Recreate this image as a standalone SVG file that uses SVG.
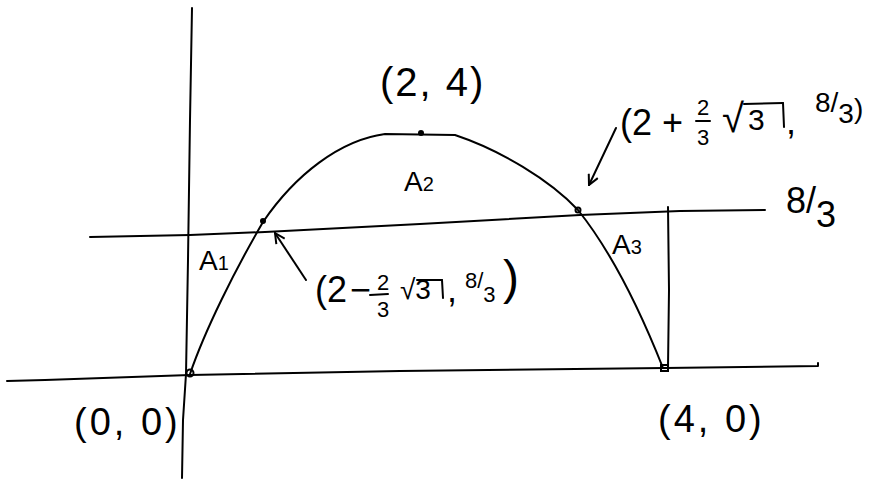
<svg xmlns="http://www.w3.org/2000/svg" width="876" height="480" viewBox="0 0 876 480">
<style>
.ln{fill:none;stroke:#000;stroke-width:2;stroke-linecap:round;stroke-linejoin:round}
.t{font-family:"Liberation Sans","DejaVu Sans",sans-serif;fill:#000}
.big{font-size:36px}
.mid{font-size:28px}
.sm{font-size:20px}
.fr{font-size:22px}
</style>
<defs>
<marker id="ah" viewBox="0 0 12 12" refX="11" refY="6" markerWidth="12" markerHeight="12" markerUnits="userSpaceOnUse" orient="auto">
<path d="M1,1 L11,6 L1,11" fill="none" stroke="#000" stroke-width="2"/>
</marker>
</defs>
<rect width="876" height="480" fill="#fff"/>
<g id="axes">
<path class="ln" d="M7,381 L45,380 L190,375 L400,371 L665,368 L818,366 L818,363"/>
<path class="ln" d="M192,8 L190,120 L188,260 L186,374 L183,420 L182,478"/>
</g>
<g id="line83">
<path class="ln" d="M90,237 L190,235 L265,232 L420,224 L580,215 L680,211 L765,210"/>
<path class="ln" d="M668,207 L669,290 L668,367"/>
</g>
<g id="parabola">
<path class="ln" d="M190,374 C205,330 235,270 263,222 C295,175 340,140 385,134 L455,135 C500,150 550,180 578,210 C610,250 640,310 663,368"/>
<circle cx="263" cy="221" r="3" fill="#000"/>
<circle cx="421" cy="133" r="3" fill="#000"/>
<circle cx="578" cy="210" r="2.5" fill="none" stroke="#000" stroke-width="2"/>
<circle cx="190" cy="373" r="3.5" fill="none" stroke="#000" stroke-width="2"/>
<rect x="661" y="365" width="7" height="6" fill="none" stroke="#000" stroke-width="2"/>
</g>
<g id="connectors">
<path class="ln" d="M306,280 L275,233" marker-end="url(#ah)"/>
<path class="ln" d="M616,128 L589,185" marker-end="url(#ah)"/>
</g>
<g id="labels">
<text class="t" x="380" y="96" font-size="40" letter-spacing="2">(2, 4)</text>
<text class="t mid" x="404" y="191">A<tspan class="sm">2</tspan></text>
<text class="t mid" x="199" y="270">A<tspan class="sm">1</tspan></text>
<text class="t mid" x="612" y="254">A<tspan class="sm">3</tspan></text>
<text class="t" x="74" y="435" font-size="38" letter-spacing="3">(0, 0)</text>
<text class="t" x="658" y="432" font-size="38" letter-spacing="3">(4, 0)</text>
<text class="t big" x="786" y="213">8/<tspan dy="14">3</tspan></text>
</g>
<g id="label-right">
<text class="t big" x="620" y="135">(2 +</text>
<text class="t fr" x="697" y="115">2</text>
<line class="ln" x1="696" y1="121" x2="710" y2="121"/>
<text class="t fr" x="697" y="145">3</text>
<text class="t" x="722" y="132" font-size="40">√</text>
<text class="t" x="748" y="130" font-size="30">3</text>
<line class="ln" x1="744" y1="104" x2="783" y2="103"/>
<line class="ln" x1="783" y1="103" x2="784" y2="127"/>
<text class="t big" x="786" y="134">,</text>
<text class="t mid" x="815" y="112">8/<tspan dy="11">3</tspan><tspan dy="-5">)</tspan></text>
</g>
<g id="label-left">
<text class="t big" x="315" y="302">(2</text>
<text class="t big" x="350" y="302">−</text>
<text class="t fr" x="377" y="290">2</text>
<line class="ln" x1="370" y1="295" x2="388" y2="294"/>
<text class="t fr" x="377" y="317">3</text>
<text class="t" x="400" y="299" font-size="28">√3</text>
<line class="ln" x1="417" y1="280" x2="442" y2="280"/>
<line class="ln" x1="442" y1="280" x2="443" y2="298"/>
<text class="t big" x="447" y="302">,</text>
<text class="t fr" x="465" y="288">8/<tspan dy="14">3</tspan></text>
<text class="t" x="503" y="294" font-size="48">)</text>
</g>
</svg>
